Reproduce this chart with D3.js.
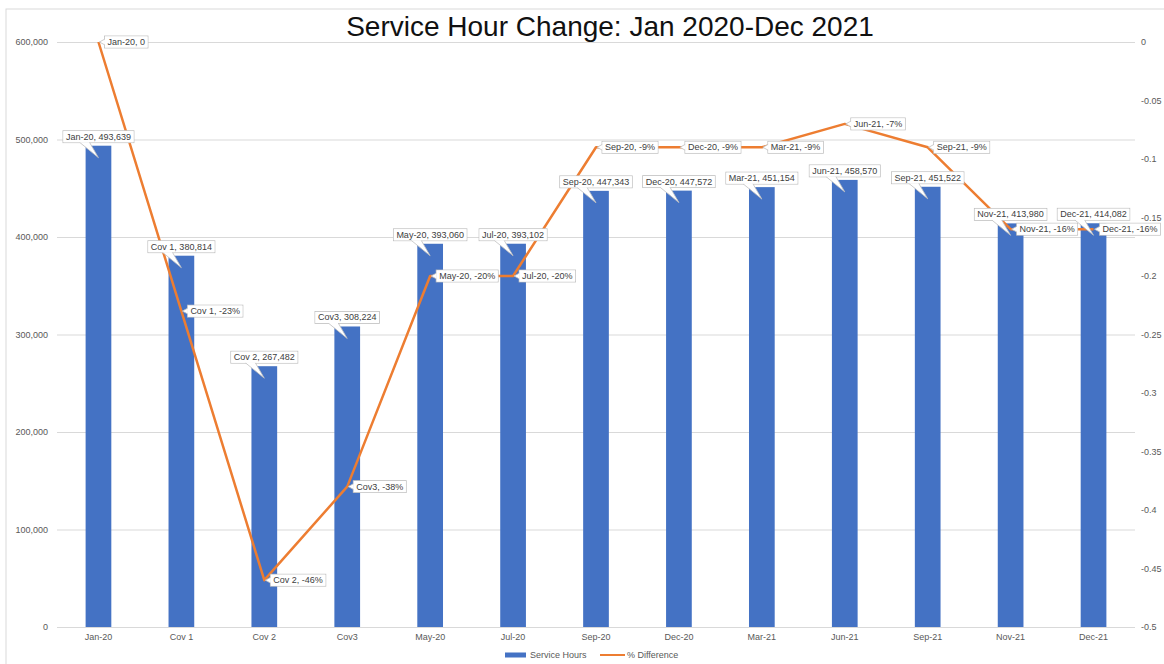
<!DOCTYPE html>
<html lang="en">
<head>
<meta charset="UTF-8">
<title>Service Hour Change</title>
<script src="https://cdn.jsdelivr.net/npm/d3@7"></script>
<style>
  body { margin: 0; background: #fff; }
  text { font-family: "Liberation Sans", Arial, sans-serif; }
</style>
</head>
<body>
<svg width="1164" height="664"></svg>
<script>
const categories = ["Jan-20", "Cov 1", "Cov 2", "Cov3", "May-20", "Jul-20", "Sep-20", "Dec-20", "Mar-21", "Jun-21", "Sep-21", "Nov-21", "Dec-21"];
const serviceHours = [493639, 380814, 267482, 308224, 393060, 393102, 447343, 447572, 451154, 458570, 451522, 413980, 414082];
const pctDifference = [0, -0.23, -0.46, -0.38, -0.20, -0.20, -0.09, -0.09, -0.09, -0.07, -0.09, -0.16, -0.16];
const leftTicks = [0, 100000, 200000, 300000, 400000, 500000, 600000];
const rightTicks = [0, -0.05, -0.1, -0.15, -0.2, -0.25, -0.3, -0.35, -0.4, -0.45, -0.5];
const legendItems = ["Service Hours", "% Difference"];

const loc = d3.formatLocale({decimal: ".", thousands: ",", grouping: [3], currency: ["$", ""], minus: "-"});
const fmtNum = loc.format(",");
const fmtPct = loc.format(".0%");
const fmtRight = loc.format("");

const svg = d3.select("svg");
const mLeft = 57, mRight = 1135, mTop = 42, mBottom = 627;

// chart border
svg.append("rect").attr("x", 6).attr("y", 9).attr("width", 1200).attr("height", 700)
  .attr("fill", "none").attr("stroke", "#d9d9d9");

const x = d3.scaleBand().domain(categories).range([mLeft, mRight])
  .paddingInner(0.69).paddingOuter(0.345);
const yL = d3.scaleLinear().domain([0, 600000]).range([mBottom, mTop]);
const yR = d3.scaleLinear().domain([-0.5, 0]).range([mBottom, mTop]);
const cx = c => x(c) + x.bandwidth() / 2;

// left axis + grid
const gL = svg.append("g").attr("transform", `translate(${mLeft},0)`)
  .call(d3.axisLeft(yL).tickValues(leftTicks).tickFormat(fmtNum).tickSize(-(mRight - mLeft)).tickPadding(9));
gL.select(".domain").remove();
gL.selectAll("line").attr("stroke", "#d9d9d9");
gL.selectAll("text").attr("fill", "#595959").attr("font-size", 9);

// right axis
const gR = svg.append("g").attr("transform", `translate(${mRight},0)`)
  .call(d3.axisRight(yR).tickValues(rightTicks).tickFormat(fmtRight).tickSize(0).tickPadding(6));
gR.select(".domain").remove();
gR.selectAll("text").attr("fill", "#595959").attr("font-size", 9);

// x axis
const gX = svg.append("g").attr("transform", `translate(0,${mBottom})`)
  .call(d3.axisBottom(x).tickSize(0).tickPadding(7));
gX.select(".domain").remove();
gX.selectAll("text").attr("fill", "#595959").attr("font-size", 9);

// bars
svg.append("g").selectAll("rect").data(categories).join("rect")
  .attr("x", d => x(d)).attr("width", x.bandwidth())
  .attr("y", (d, i) => yL(serviceHours[i]))
  .attr("height", (d, i) => mBottom - yL(serviceHours[i]))
  .attr("fill", "#4472c4");

// line
const line = d3.line().x((d, i) => cx(categories[i])).y(d => yR(d));
svg.append("path").datum(pctDifference).attr("d", line)
  .attr("fill", "none").attr("stroke", "#ed7d31").attr("stroke-width", 2.5)
  .attr("stroke-linejoin", "round");

// callouts
const labels = svg.append("g");
function boxLabel(txt, placeBox) {
  const g = labels.append("g");
  const t = g.append("text").text(txt).attr("font-size", 9).attr("fill", "#404040");
  const w = t.node().getComputedTextLength() + 6, h = 12;
  const b = placeBox(w, h);
  g.insert("path", "text").attr("d", b.pointer).attr("fill", "#fff").attr("stroke", "#bfbfbf").attr("stroke-width", 0.8);
  g.insert("rect", "path").attr("x", b.x).attr("y", b.y).attr("width", w).attr("height", h)
    .attr("fill", "#fff").attr("stroke", "#bfbfbf").attr("stroke-width", 0.8);
  // cover the pointer join
  g.insert("rect", "text").attr("x", b.x + 0.5).attr("y", b.y + 0.5).attr("width", w - 1).attr("height", h - 1).attr("fill", "#fff");
  t.attr("x", b.x + 3).attr("y", b.y + 9);
}

categories.forEach((c, i) => {
  const px = cx(c), py = yL(serviceHours[i]);
  boxLabel(`${c}, ${fmtNum(serviceHours[i])}`, (w, h) => {
    const bx = px - w / 2, by = py - 3 - h;
    const p = d3.path();
    p.moveTo(px - 19, by + h - 0.5);
    p.lineTo(px, py + 12);
    p.lineTo(px - 9, by + h - 0.5);
    return {x: bx, y: by, pointer: p.toString()};
  });
});

categories.forEach((c, i) => {
  const v = pctDifference[i];
  const px = cx(c), py = yR(v);
  boxLabel(`${c}, ${v === 0 ? "0" : fmtPct(v)}`, (w, h) => {
    const bx = px + 6, by = py - h / 2;
    const p = d3.path();
    p.moveTo(bx + 0.5, py - 3);
    p.lineTo(px + 1, py);
    p.lineTo(bx + 0.5, py + 3);
    return {x: bx, y: by, pointer: p.toString()};
  });
});

// title
svg.append("text").attr("x", 610).attr("y", 36).attr("text-anchor", "middle")
  .attr("font-size", 28).attr("fill", "#111").text("Service Hour Change: Jan 2020-Dec 2021");

// legend
const lg = svg.append("g").attr("transform", "translate(505,655)");
lg.append("rect").attr("x", 0).attr("y", -2.5).attr("width", 21).attr("height", 5).attr("fill", "#4472c4");
lg.append("text").attr("x", 25).attr("y", 3).attr("font-size", 9).attr("fill", "#595959").text(legendItems[0]);
lg.append("line").attr("x1", 95).attr("x2", 120).attr("y1", 0).attr("y2", 0).attr("stroke", "#ed7d31").attr("stroke-width", 2);
lg.append("text").attr("x", 122).attr("y", 3).attr("font-size", 9).attr("fill", "#595959").text(legendItems[1]);
</script>
</body>
</html>
